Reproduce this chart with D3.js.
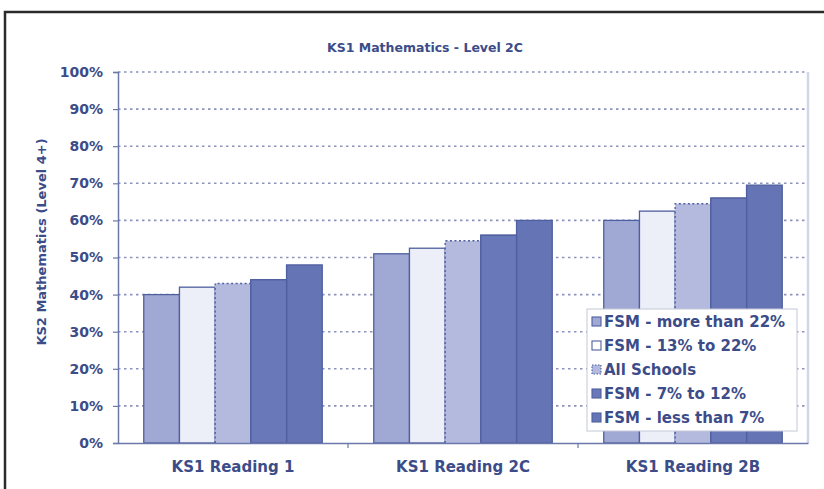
<!DOCTYPE html>
<html><head><meta charset="utf-8">
<script src="https://cdn.jsdelivr.net/npm/d3@7"></script>
<style>
body{margin:0;background:#fff}
svg{display:block}
text{font-family:"DejaVu Sans",sans-serif;font-weight:bold}
</style>
</head><body>
<svg id="c" width="824" height="489"></svg>
<script>
// ---- data ----
const categories = ["KS1 Reading 1", "KS1 Reading 2C", "KS1 Reading 2B"];
const seriesNames = ["FSM - more than 22%", "FSM - 13% to 22%", "All Schools", "FSM - 7% to 12%", "FSM - less than 7%"];
const fsmOver22  = [40, 51, 60];
const fsm13to22  = [42, 52.5, 62.5];
const allSchools = [43, 54.5, 64.5];
const fsm7to12   = [44, 56, 66];
const fsmUnder7  = [48, 60, 69.5];
const yTickValues = [0, 10, 20, 30, 40, 50, 60, 70, 80, 90, 100];
const chartTitle = "KS1 Mathematics - Level 2C";
const yAxisTitle = "KS2 Mathematics (Level 4+)";

// ---- styles ----
const fills = ["#a0a9d4", "#eceef8", "#b4bade", "#6878b8", "#6474b5"];
const edge = "#4f5f9f";
const textCol = "#3c4c88";

const svg = d3.select("#c");
const L = 118, R = 808, T = 72, B = 443;

const values = [fsmOver22, fsm13to22, allSchools, fsm7to12, fsmUnder7];
const rows = categories.map((c, i) => ({cat: c, vals: values.map((s, k) => ({k, v: s[i]}))}));

const x = d3.scaleBand().domain(categories).range([L, R]).paddingInner(0.224).paddingOuter(0.112);
const xs = d3.scaleBand().domain(d3.range(seriesNames.length)).range([0, x.bandwidth()]);
const y = d3.scaleLinear().domain([0, 100]).range([B, T]);

// outer frame
svg.append("rect").attr("x", 5).attr("y", 12).attr("width", 830).attr("height", 500)
  .attr("fill", "none").attr("stroke", "#2b2b2b").attr("stroke-width", 2.5);

// title
svg.append("text").attr("x", 425).attr("y", 52).attr("text-anchor", "middle")
  .attr("font-size", 12.5).attr("fill", textCol).text(chartTitle);

// y title
svg.append("text").attr("transform", "translate(46,242) rotate(-90)").attr("text-anchor", "middle")
  .attr("font-size", 13).attr("fill", textCol).text(yAxisTitle);

// plot right border
svg.append("line").attr("x1", R).attr("x2", R).attr("y1", T).attr("y2", B)
  .attr("stroke", "#d3d6ea").attr("stroke-width", 2.5);

// gridlines
svg.append("g").selectAll("line").data(yTickValues.filter(d => d > 0)).join("line")
  .attr("x1", L).attr("x2", R - 2).attr("y1", d => y(d)).attr("y2", d => y(d))
  .attr("stroke", "#8d94bb").attr("stroke-width", 1.6).attr("stroke-dasharray", "2.5,3.5");

// y axis
const yAxis = d3.axisLeft(y).tickValues(yTickValues).tickFormat(d => d + "%").tickSize(5).tickPadding(10);
const gy = svg.append("g").attr("transform", `translate(${L},0)`).call(yAxis);
gy.select(".domain").attr("stroke", "#6c77aa").attr("stroke-width", 1.5);
gy.selectAll(".tick line").attr("stroke", "#6c77aa").attr("stroke-width", 1.2);
gy.selectAll(".tick text").attr("font-size", 14).attr("fill", textCol)
  .attr("font-family", "DejaVu Sans").attr("font-weight", "bold");

// bars
const groups = svg.append("g").selectAll("g").data(rows).join("g")
  .attr("transform", d => `translate(${x(d.cat)},0)`);
groups.selectAll("rect").data(d => d.vals).join("rect")
  .attr("x", d => xs(d.k)).attr("width", xs.bandwidth())
  .attr("y", d => y(d.v)).attr("height", d => B - y(d.v))
  .attr("fill", d => fills[d.k])
  .attr("stroke", d => d.k === 2 ? "none" : edge).attr("stroke-width", 1.3);
// dotted edges for "All Schools"
groups.selectAll("path.dot").data(d => d.vals.filter(v => v.k === 2)).join("path")
  .attr("class", "dot")
  .attr("d", d => `M${xs(d.k)},${B}V${y(d.v)}H${xs(d.k) + xs.bandwidth()}`)
  .attr("fill", "none").attr("stroke", edge).attr("stroke-width", 1.4).attr("stroke-dasharray", "2,2.5");
// redraw series 4 left edge over
groups.selectAll("rect.s4").data(d => d.vals.filter(v => v.k === 3)).join("rect")
  .attr("class", "s4")
  .attr("x", d => xs(d.k)).attr("width", xs.bandwidth())
  .attr("y", d => y(d.v)).attr("height", d => B - y(d.v))
  .attr("fill", d => fills[d.k]).attr("stroke", edge).attr("stroke-width", 1.3);

// x axis
const xAxis = d3.axisBottom(x).tickSize(0).tickPadding(18);
const gx = svg.append("g").attr("transform", `translate(0,${B})`).call(xAxis);
gx.select(".domain").attr("stroke", "#6c77aa").attr("stroke-width", 1.5);
gx.selectAll(".tick text").attr("font-size", 15).attr("fill", textCol)
  .attr("font-family", "DejaVu Sans").attr("font-weight", "bold");
// category boundary ticks
const bounds = categories.slice(1).map(c => x(c) - x.step() * x.paddingInner() / 2);
svg.append("g").selectAll("line").data(bounds).join("line")
  .attr("x1", d => d).attr("x2", d => d).attr("y1", B).attr("y2", B + 5)
  .attr("stroke", "#6c77aa").attr("stroke-width", 1.2);

// legend
const lg = svg.append("g");
lg.append("rect").attr("x", 587).attr("y", 309).attr("width", 210).attr("height", 122)
  .attr("fill", "#fff").attr("stroke", "#c4c7d8").attr("stroke-width", 1);
const li = lg.selectAll("g.item").data(seriesNames).join("g").attr("class", "item")
  .attr("transform", (d, i) => `translate(592,${322 + i * 24})`);
li.append("rect").attr("x", 0).attr("y", -5).attr("width", 9).attr("height", 9)
  .attr("fill", (d, i) => i === 1 ? "#fff" : fills[i])
  .attr("stroke", edge).attr("stroke-width", 1.1)
  .attr("stroke-dasharray", (d, i) => i === 2 ? "1.5,1.5" : null);
li.append("text").attr("x", 12).attr("y", 0).attr("dy", "0.36em")
  .attr("font-size", 15).attr("fill", textCol).text(d => d);
</script>
</body></html>
